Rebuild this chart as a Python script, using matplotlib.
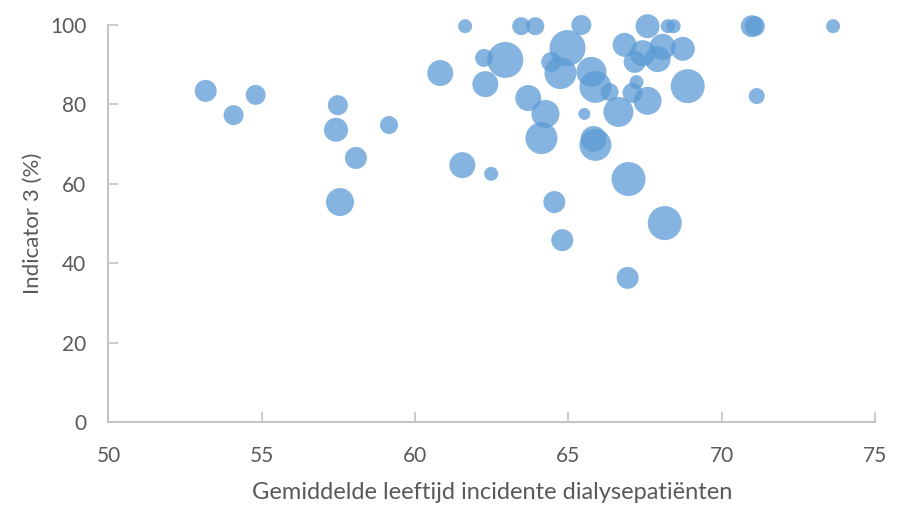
import matplotlib.pyplot as plt
import numpy as np

plt.rcParams["font.family"] = ["Lato", "DejaVu Sans"]

# mean age of incident dialysis patients per centre
age = [53.17, 54.08, 54.80, 57.48, 57.42, 57.55, 58.07, 59.15, 60.82, 61.54,
       61.63, 62.25, 62.29, 62.48, 62.94, 63.46, 63.92, 63.69, 64.25, 64.12,
       64.44, 64.54, 64.80, 64.74, 64.97, 65.42, 65.75, 65.88, 66.34, 66.63,
       65.52, 65.82, 65.88, 66.96, 66.93, 68.14, 67.58, 68.24, 68.43, 66.83,
       67.42, 67.16, 68.07, 67.91, 68.73, 67.22, 67.09, 67.58, 68.89, 70.98,
       71.08, 71.14, 73.63]

# indicator 3 score (%)
indicator3 = [83.4, 77.3, 82.4, 79.8, 73.6, 55.4, 66.5, 74.8, 87.9, 64.7,
              99.7, 91.7, 85.1, 62.5, 91.2, 99.7, 99.7, 81.6, 77.6, 71.5,
              90.7, 55.4, 45.8, 87.9, 94.2, 100.0, 88.2, 84.4, 83.1, 78.1,
              77.6, 71.3, 69.8, 61.2, 36.3, 50.1, 99.7, 99.7, 99.7, 95.0,
              92.9, 90.7, 94.5, 91.4, 94.0, 85.6, 82.9, 80.9, 84.6, 99.7,
              99.7, 82.1, 99.7]

# bubble size (centre volume)
bubble_size = [121, 100, 100, 100, 144, 196, 121, 81, 169, 169,
               49, 81, 169, 49, 324, 81, 81, 169, 196, 256,
               100, 121, 121, 256, 324, 100, 225, 256, 81, 225,
               36, 169, 256, 289, 121, 289, 144, 49, 49, 144,
               169, 121, 169, 169, 144, 49, 100, 196, 289, 121,
               100, 64, 49]

fig = plt.figure(figsize=(9.04, 5.05), dpi=100)
ax = fig.add_axes([0.1200, 0.1644, 0.8480, 0.7861])

s = np.array(bubble_size) * 1.44 ** 2
ax.scatter(age, indicator3, s=s, color="#5B9BD5", alpha=0.75,
           edgecolors="none", clip_on=False, zorder=3)

ax.set_xlim(50, 75)
ax.set_ylim(0, 100)
ax.set_xticks(np.arange(50, 76, 5))
ax.set_yticks(np.arange(0, 101, 20))

for side in ["top", "right"]:
    ax.spines[side].set_visible(False)
for side in ["bottom", "left"]:
    ax.spines[side].set_color("#C4C4C4")
    ax.spines[side].set_linewidth(1.5)

ax.tick_params(axis="x", direction="in", length=7, width=1.2,
               color="#C4C4C4", labelcolor="#595959", labelsize=15, pad=17)
ax.tick_params(axis="y", direction="in", length=7, width=1.2,
               color="#C4C4C4", labelcolor="#595959", labelsize=15, pad=16)

ax.set_xlabel("Gemiddelde leeftijd incidente dialysepatiënten",
              fontsize=17, color="#595959", labelpad=12)
ax.set_ylabel("Indicator 3 (%)", fontsize=16, color="#595959", labelpad=5)

fig.savefig("out.png", dpi=100)
